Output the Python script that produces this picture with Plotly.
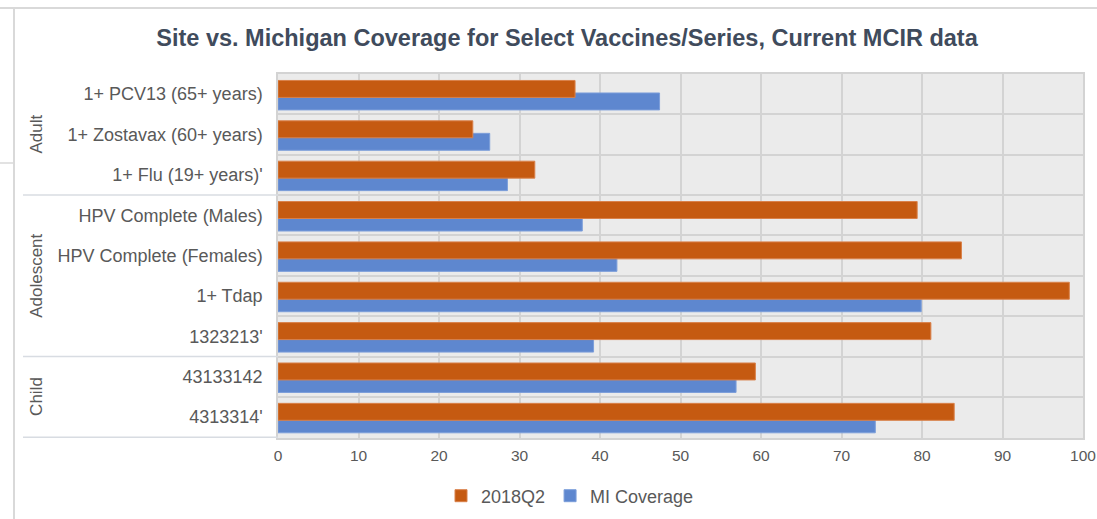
import plotly.graph_objects as go

categories = ["1+ PCV13 (65+ years)", "1+ Zostavax (60+ years)", "1+ Flu (19+ years)'",
              "HPV Complete (Males)", "HPV Complete (Females)", "1+ Tdap", "1323213'",
              "43133142", "4313314'"]
groups = ["Adult", "Adolescent", "Child"]
group_sizes = [3, 4, 2]
site_2018q2 = [36.9, 24.2, 31.9, 79.4, 84.9, 98.3, 81.1, 59.3, 84.0]
mi_coverage = [47.4, 26.3, 28.5, 37.8, 42.1, 79.9, 39.2, 56.9, 74.2]
x_ticks = [0, 10, 20, 30, 40, 50, 60, 70, 80, 90, 100]

FONT = "Liberation Sans, Arial, sans-serif"
GRAY = "#595959"
GRID = "#D3D3D3"

fig = go.Figure()
fig.add_trace(go.Bar(
    y=categories, x=mi_coverage, orientation="h", name="MI Coverage",
    marker=dict(color="#5E87CF", line=dict(color="#7C9EDA", width=1)),
    width=0.42, offset=-0.03, legendrank=2,
))
fig.add_trace(go.Bar(
    y=categories, x=site_2018q2, orientation="h", name="2018Q2",
    marker=dict(color="#C55A11", line=dict(color="#D9814A", width=1)),
    width=0.42, offset=-0.34, legendrank=1,
))

W, H = 1097, 519
L, R, T, B = 278, 14, 74, 81
pw, ph = W - L - R, H - T - B

def px_x(p):
    return (p - L) / pw

def px_y(p):
    return (H - B - p) / ph

shapes = []
idx = 0
for n in group_sizes:
    idx += n
    shapes.append(dict(type="line", xref="paper", yref="y", x0=px_x(23), x1=0,
                       y0=idx - 0.5, y1=idx - 0.5, line=dict(color="#D8DCE2", width=1.5)))
shapes.append(dict(type="line", xref="paper", yref="paper", x0=px_x(0), x1=px_x(W),
                   y0=px_y(8), y1=px_y(8), line=dict(color="#D9D9D9", width=2)))
shapes.append(dict(type="line", xref="paper", yref="paper", x0=px_x(14), x1=px_x(14),
                   y0=px_y(8), y1=px_y(H), line=dict(color="#D9D9D9", width=2)))
shapes.append(dict(type="line", xref="paper", yref="paper", x0=px_x(0), x1=px_x(13),
                   y0=px_y(163), y1=px_y(163), line=dict(color="#D9D9D9", width=1.5)))

annotations = []
idx = 0
for g, n in zip(groups, group_sizes):
    center = idx + (n - 1) / 2
    annotations.append(dict(text=g, xref="paper", yref="y", x=px_x(37), y=center,
                            textangle=-90, showarrow=False, xanchor="center", yanchor="middle",
                            font=dict(family=FONT, size=17, color=GRAY)))
    idx += n

fig.update_layout(
    width=W, height=H,
    margin=dict(l=L, r=R, t=T, b=B, autoexpand=False),
    paper_bgcolor="white", plot_bgcolor="#EBEBEB",
    barmode="overlay",
    title=dict(text="<b>Site vs. Michigan Coverage for Select Vaccines/Series, Current MCIR data</b>",
               x=567 / W, xanchor="center", xref="container",
               y=1 - 38 / H, yanchor="middle", yref="container",
               font=dict(family=FONT, size=23.5, color="#404B5C")),
    xaxis=dict(range=[0, 100], tickvals=x_ticks, showgrid=True, gridcolor=GRID, gridwidth=1.5,
               zeroline=False, showline=True, linecolor=GRID, linewidth=1.5, mirror=True,
               ticklabelstandoff=3, automargin=False,
               tickfont=dict(family=FONT, size=15.5, color=GRAY), fixedrange=True),
    yaxis=dict(autorange="reversed", type="category", tickson="boundaries", showgrid=True,
               gridcolor=GRID, gridwidth=1.5, showline=True, linecolor=GRID, linewidth=1.5,
               mirror=True, ticks="", ticklabelstandoff=10, automargin=False,
               tickfont=dict(family=FONT, size=18, color=GRAY)),
    legend=dict(orientation="h", x=px_x(570), xanchor="center", y=px_y(496), yanchor="middle",
                font=dict(family=FONT, size=18, color=GRAY), bgcolor="rgba(0,0,0,0)"),
    shapes=shapes, annotations=annotations,
    showlegend=True,
)

fig.write_html("out.html", config={"displayModeBar": False},
               post_script="document.body.style.margin='0';document.body.style.overflow='hidden';")
